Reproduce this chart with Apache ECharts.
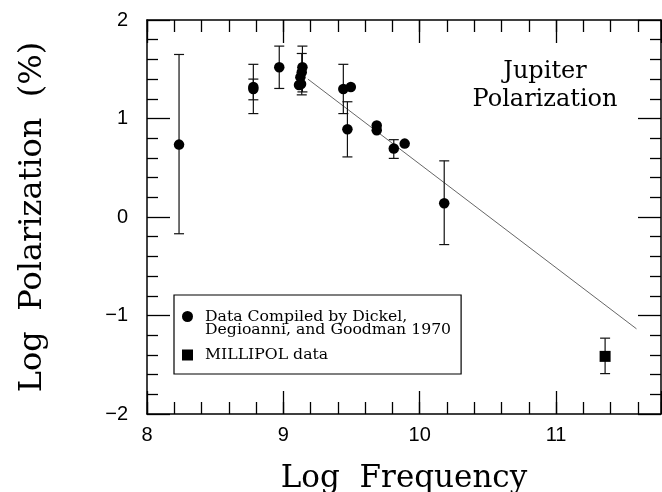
<!DOCTYPE html>
<html><head><meta charset="utf-8">
<script src="https://cdn.jsdelivr.net/npm/echarts@6/dist/echarts.min.js"></script>
<style>html,body{margin:0;padding:0;background:#fff}#c{width:662px;height:492px}</style>
</head><body><div id="c"></div>
<script>
const DICKEL = 'Data Compiled by Dickel, Degioanni, and Goodman 1970';
const MILLI = 'MILLIPOL data';
const xRange = [8, 11.77];
const yRange = [-2, 2];
const dickelPoints = [
  [8.235, 0.735], [8.78, 1.30], [8.78, 1.32], [8.97, 1.52],
  [9.14, 1.52], [9.135, 1.47], [9.125, 1.42], [9.13, 1.35], [9.115, 1.34],
  [9.44, 1.30], [9.495, 1.32], [9.47, 0.89], [9.685, 0.93], [9.685, 0.88],
  [9.81, 0.695], [9.89, 0.745], [10.18, 0.14]
];
// [x, low, high]
const dickelErrors = [
  [8.235, -0.17, 1.65], [8.78, 1.19, 1.40], [8.78, 1.05, 1.55], [8.97, 1.305, 1.735],
  [9.14, 1.27, 1.735], [9.135, 1.24, 1.66], [9.44, 1.05, 1.55], [9.47, 0.61, 1.17],
  [9.81, 0.595, 0.785], [10.18, -0.28, 0.57]
];
const millipolPoints = [[11.36, -1.415]];
const millipolErrors = [[11.36, -1.59, -1.23]];
const fitLine = [[9.18, 1.40], [11.59, -1.135]];

const black = '#000';
const tickLine = {color: black, width: 1.3};
const labelFont = {fontFamily: 'Liberation Sans', fontSize: 20, color: black};
const serif = 'DejaVu Serif';
const minus = v => (v < 0 ? '\u2212' + Math.abs(v) : String(v));

function xAxisPair(pos, withLabels) {
  return [
    {type: 'value', position: pos, min: xRange[0], max: xRange[1], interval: 1,
     axisLine: {show: true, onZero: false, lineStyle: {color: black, width: 1.5}},
     axisTick: {show: true, inside: true, length: 23, lineStyle: tickLine},
     axisLabel: withLabels ? Object.assign({show: true, margin: 11,
        formatter: v => (Math.abs(v - Math.round(v)) < 1e-6 ? String(Math.round(v)) : '')}, labelFont) : {show: false},
     splitLine: {show: false},
     name: withLabels ? 'Log  Frequency' : '', nameLocation: 'middle', nameGap: 49,
     nameTextStyle: {fontFamily: serif, fontSize: 31, color: black}},
    {type: 'value', position: pos, min: xRange[0], max: xRange[1], interval: 0.2,
     axisLine: {show: false, onZero: false}, axisTick: {show: true, inside: true, length: 12, lineStyle: tickLine},
     axisLabel: {show: false}, splitLine: {show: false}}
  ];
}
function yAxisDef(pos, withLabels) {
  return {type: 'value', position: pos, min: yRange[0], max: yRange[1], interval: 1,
    axisLine: {show: true, onZero: false, lineStyle: {color: black, width: 1.5}},
    axisTick: {show: true, inside: true, length: 23, lineStyle: tickLine},
    minorTick: {show: true, splitNumber: 5, length: 11, lineStyle: tickLine},
    axisLabel: withLabels ? Object.assign({show: true, margin: 19, formatter: minus}, labelFont) : {show: false},
    splitLine: {show: false}, minorSplitLine: {show: false},
    name: withLabels ? 'Log  Polarization  (%)' : '', nameLocation: 'middle', nameGap: 98,
    nameTextStyle: {fontFamily: serif, fontSize: 32, color: black}};
}

function errRender(params, api) {
  const x = api.value(0), lo = api.value(1), hi = api.value(2);
  const a = api.coord([x, hi]), b = api.coord([x, lo]);
  const c = 5, st = {stroke: '#111', lineWidth: 1.2};
  return {type: 'group', children: [
    {type: 'line', shape: {x1: a[0], y1: a[1], x2: b[0], y2: b[1]}, style: st},
    {type: 'line', shape: {x1: a[0] - c, y1: a[1], x2: a[0] + c, y2: a[1]}, style: st},
    {type: 'line', shape: {x1: b[0] - c, y1: b[1], x2: b[0] + c, y2: b[1]}, style: st}
  ]};
}

const chart = echarts.init(document.getElementById('c'), null, {renderer: 'canvas'});
chart.setOption({
  animation: false,
  backgroundColor: '#fff',
  grid: {left: 147, top: 20, width: 514, height: 394, outerBoundsMode: 'none', containLabel: false},
  title: {text: 'Jupiter\nPolarization', left: 545, top: 58, padding: 0, textAlign: 'center',
    textStyle: {fontFamily: serif, fontSize: 24, fontWeight: 'normal', lineHeight: 28, color: black}},
  legend: {
    left: 174, top: 295, orient: 'vertical', padding: [0, 10, 11, 8], itemGap: 9,
    itemWidth: 11, itemHeight: 11, selectedMode: false,
    borderColor: black, borderWidth: 1.2, backgroundColor: '#fff',
    data: [{name: DICKEL, icon: 'circle'}, {name: MILLI, icon: 'rect'}],
    formatter: name => name === DICKEL
      ? '{e| }\n{a|Data Compiled by Dickel,}\n{b|Degioanni, and Goodman 1970}'
      : '{c|MILLIPOL data}',
    textStyle: {fontFamily: serif, fontSize: 15.7, color: black,
      rich: {
        e: {fontFamily: serif, fontSize: 15.7, lineHeight: 7},
        a: {fontFamily: serif, fontSize: 15.7, lineHeight: 20, padding: [0, 0, 0, 7], color: black},
        b: {fontFamily: serif, fontSize: 15.7, lineHeight: 7, padding: [0, 0, 0, 7], color: black},
        c: {fontFamily: serif, fontSize: 15.7, lineHeight: 11, padding: [0, 0, 0, 7], color: black}
      }}
  },
  xAxis: [...xAxisPair('bottom', true), ...xAxisPair('top', false)],
  yAxis: [yAxisDef('left', true), yAxisDef('right', false)],
  series: [
    {type: 'line', data: fitLine, symbol: 'none', silent: true, z: 1,
     lineStyle: {color: '#555', width: 0.9}},
    {type: 'custom', data: dickelErrors, renderItem: errRender, encode: {x: 0, y: [1, 2]}, z: 2, silent: true},
    {type: 'custom', data: millipolErrors, renderItem: errRender, encode: {x: 0, y: [1, 2]}, z: 2, silent: true},
    {name: DICKEL, type: 'scatter', data: dickelPoints, symbol: 'circle', symbolSize: 10.5, z: 3,
     itemStyle: {color: black, opacity: 1}},
    {name: MILLI, type: 'scatter', data: millipolPoints, symbol: 'rect', symbolSize: 11, z: 3,
     itemStyle: {color: black, opacity: 1}}
  ]
});
</script></body></html>
